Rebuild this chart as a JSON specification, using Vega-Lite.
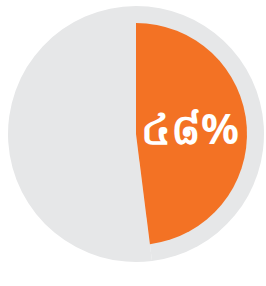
{
  "$schema": "https://vega.github.io/schema/vega-lite/v6.json",
  "width": 260,
  "height": 268,
  "padding": {"left": 6, "top": 0, "right": 0, "bottom": 18},
  "background": "white",
  "view": {"stroke": null},
  "data": {"values": [
    {"part": "A", "value": 48, "label": "៤៨%"},
    {"part": "B", "value": 52, "label": ""}
  ]},
  "layer": [
    {
      "mark": {"type": "arc", "radius": 128, "fill": "#E6E7E8"},
      "encoding": {"theta": {"field": "value", "type": "quantitative", "stack": true}}
    },
    {
      "mark": {"type": "arc", "radius": 111},
      "encoding": {
        "theta": {"field": "value", "type": "quantitative", "stack": true},
        "color": {"field": "part", "type": "nominal", "scale": {"domain": ["A", "B"], "range": ["#F37224", "rgba(0,0,0,0)"]}, "legend": null}
      }
    },
    {
      "transform": [{"filter": "datum.part === 'A'"}],
      "mark": {"type": "text", "radius": 54, "fill": "white", "fontSize": 42, "fontWeight": "bold", "font": "Noto Sans", "baseline": "middle", "align": "center"},
      "encoding": {
        "theta": {"field": "value", "type": "quantitative", "stack": true},
        "text": {"field": "label"}
      }
    }
  ]
}
